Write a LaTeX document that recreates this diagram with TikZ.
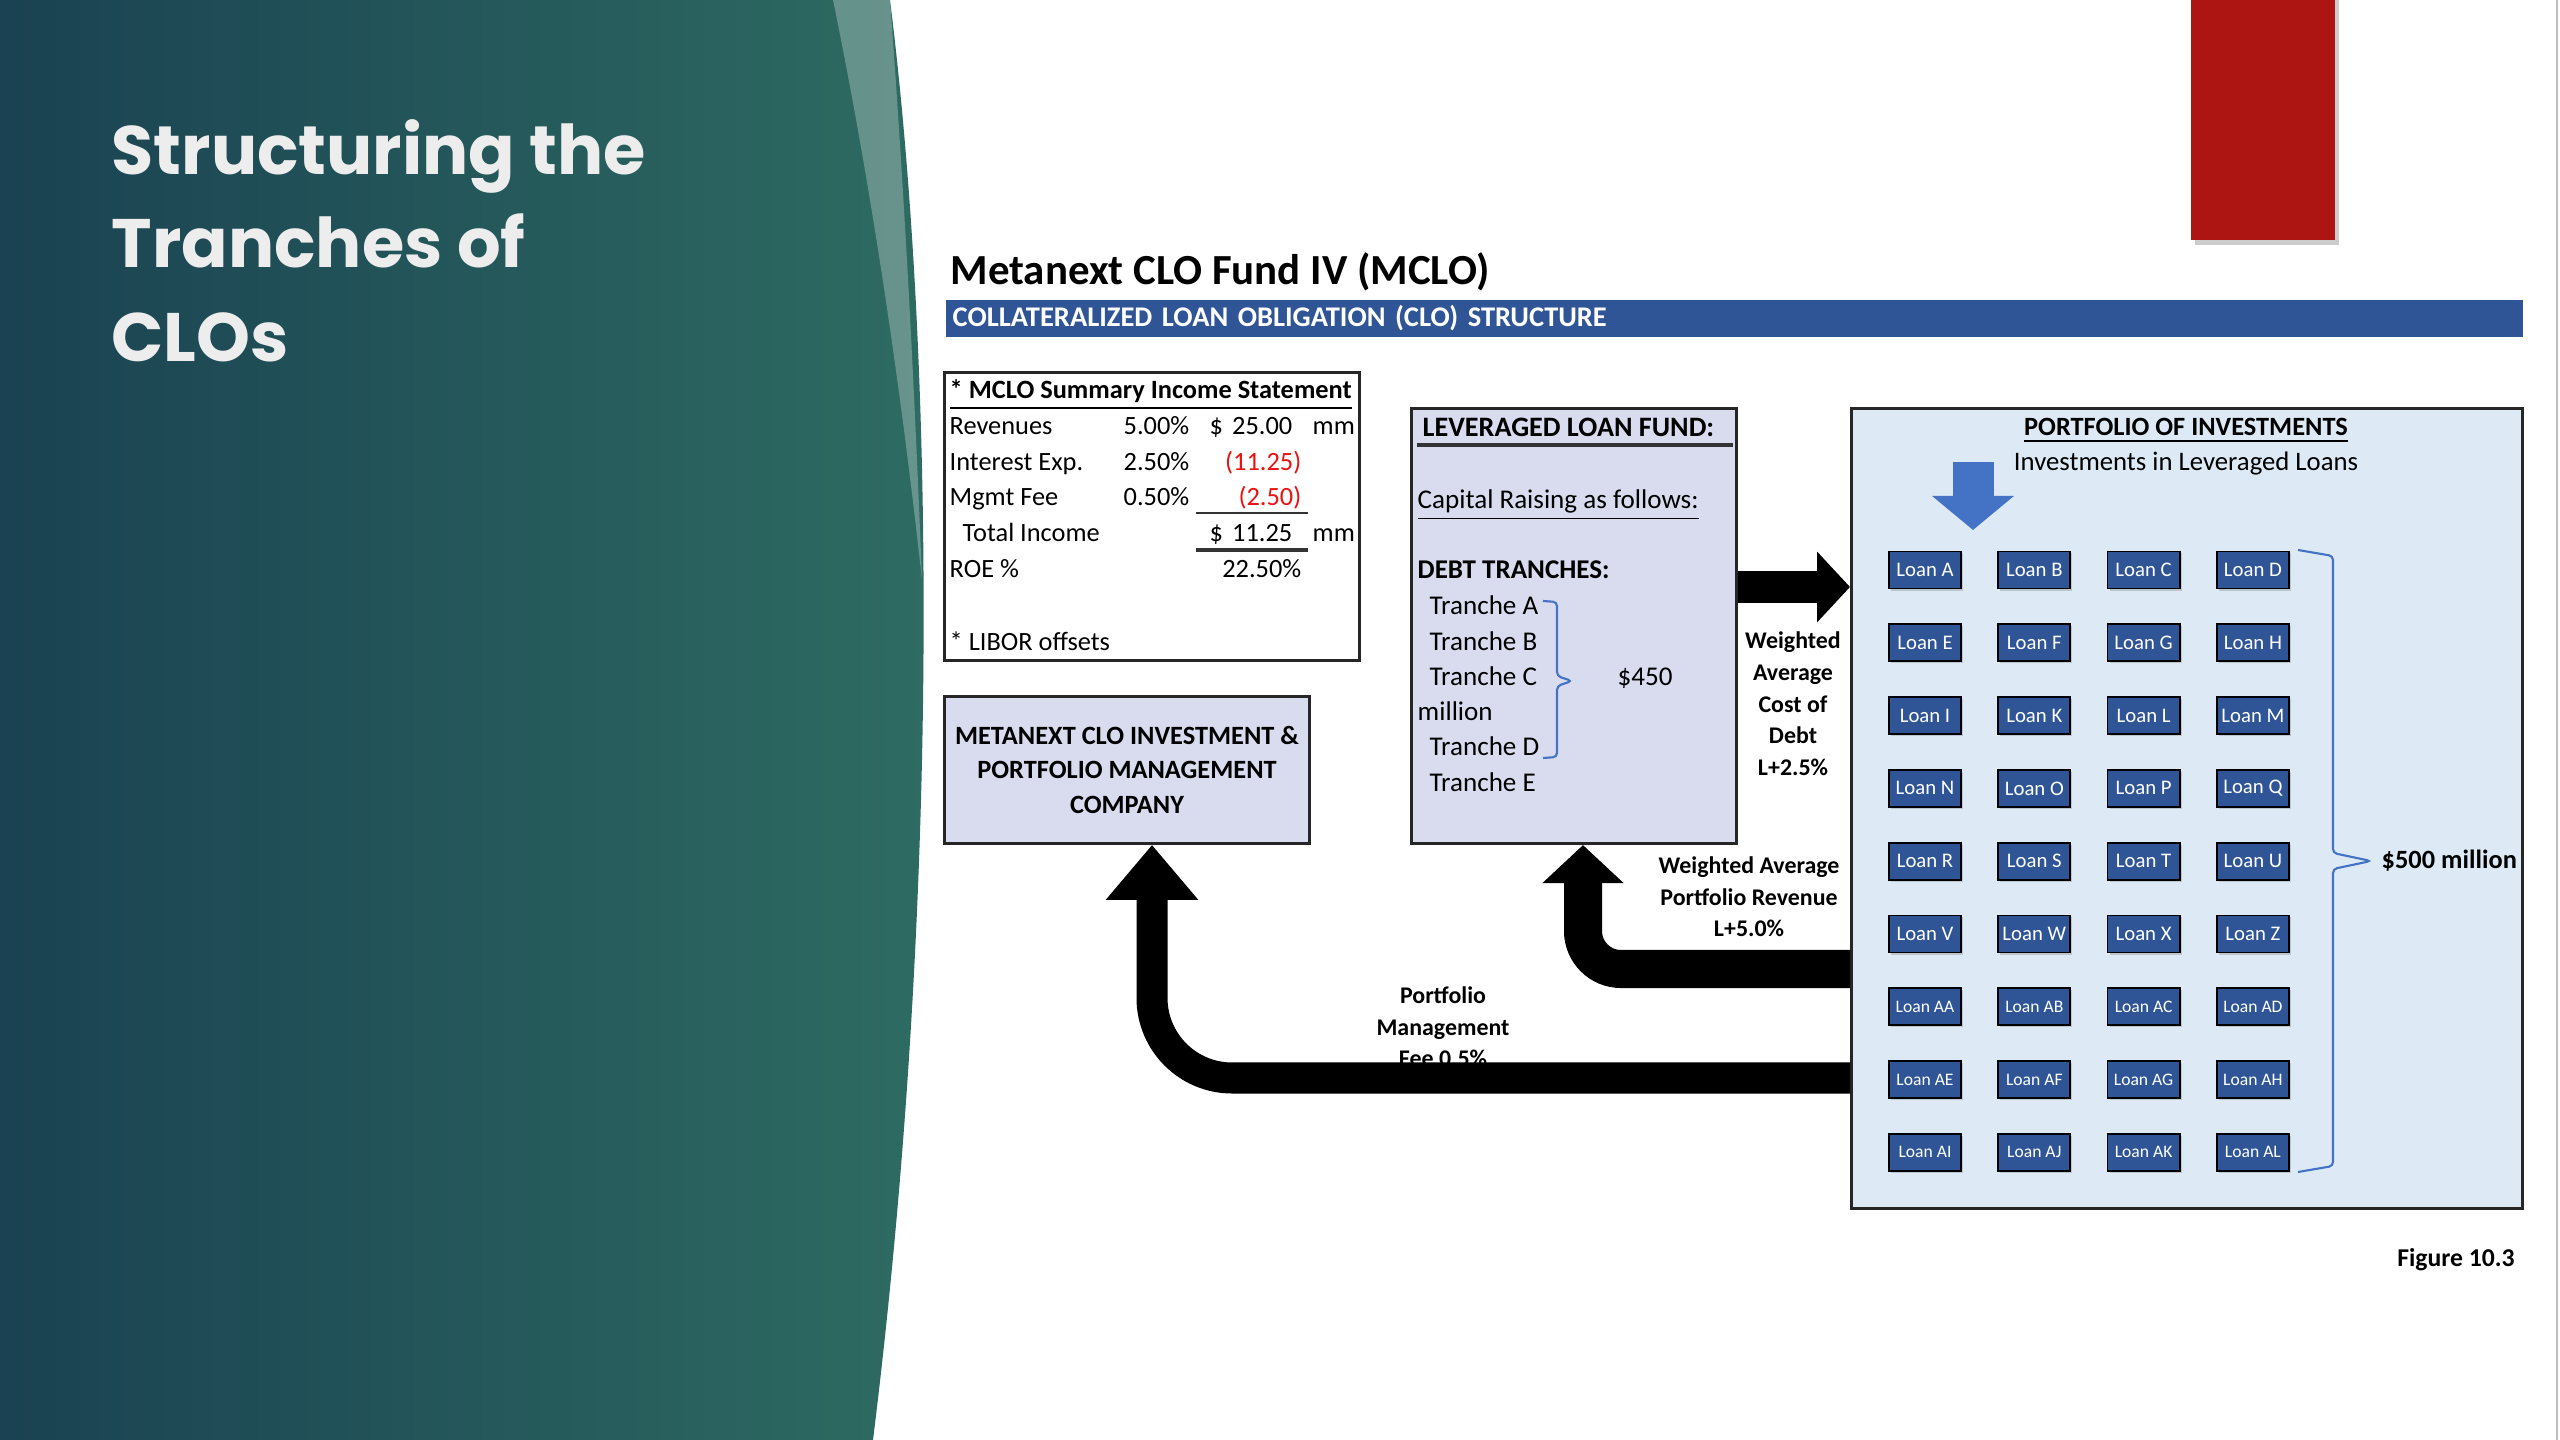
\documentclass[tikz,border=0pt]{standalone}
\usepackage{fontspec}
\setmainfont{Carlito}
\newfontfamily\slidefont{Poppins}
\usetikzlibrary{arrows.meta,shadows}

\definecolor{slidedark}{HTML}{1A4252}
\definecolor{slideteal}{HTML}{2E6C62}
\definecolor{slidered}{HTML}{AC1512}
\definecolor{barblue}{HTML}{2F5597}
\definecolor{loanblue}{HTML}{2F5597}
\definecolor{bracblue}{HTML}{4472C4}
\definecolor{fundfill}{HTML}{D9DCEF}
\definecolor{pffill}{HTML}{DDEAF6}
\definecolor{negred}{HTML}{EE1111}

\begin{document}
\begin{tikzpicture}[
    x=0.01cm, y=-0.01cm,
    slidetitle/.style={
        font=\slidefont\bfseries\fontsize{19.5}{26.5}\selectfont,
        text=black!7,
        align=left,
        inner sep=0pt
    },
    cell/.style={
        font=\fontsize{7.5}{9}\selectfont,
        inner sep=0pt
    },
    cellbold/.style={
        cell,
        font=\bfseries\fontsize{7.5}{9}\selectfont
    },
    label/.style={
        font=\bfseries\fontsize{6.8}{9}\selectfont,
        align=center,
        inner sep=0pt
    },
    box/.style={
        draw=black!85,
        line width=0.8pt,
        inner sep=0pt
    },
    loan/.style={
        draw=black,
        fill=loanblue,
        text=white,
        line width=0.5pt,
        minimum width=0.72cm,
        minimum height=0.37cm,
        inner sep=0pt,
        drop shadow={opacity=0.35, shadow xshift=0.02cm, shadow yshift=-0.02cm}
    },
    flow/.style={
        draw=black,
        line cap=butt
    },
    brace/.style={
        draw=bracblue,
        line width=0.6pt,
        rounded corners=0.04cm
    },
    rule/.style={
        draw=black!80,
        line width=0.6pt
    }
]

\useasboundingbox (0,0) rectangle (2560,1440);

% Horizontal positions
\def\LabelX{949}
\def\PctX{1190}
\def\DollarX{1209}
\def\AmtX{1293}
\def\NegX{1302}
\def\UnitX{1312}
\def\LoanX{1925}
\def\LoanY{570}

% ==================================================
% Slide background
% ==================================================

\shade[left color=slidedark, right color=slideteal]
    (0,0) -- (890,0)
    .. controls (935,360) and (940,900) .. (873,1440)
    -- (0,1440) -- cycle;

\fill[white, opacity=0.28]
    (833,0) -- (890,0)
    .. controls (905,200) and (915,400) .. (922,580)
    .. controls (900,380) and (870,180) .. (833,0);

\node[slidetitle, anchor=north west] (slideTitle) at (111,119)
    {Structuring the\\Tranches of\\CLOs};

\fill[black!40, opacity=0.5] (2195,0) rectangle (2339,245);
\fill[slidered] (2191,0) rectangle (2335,240);

\draw[black!25, line width=0.5pt] (2557,0) -- (2557,1440);

% ==================================================
% Heading
% ==================================================

\node[anchor=west, inner sep=0pt, font=\bfseries\fontsize{12.2}{14}\selectfont] (mainTitle) at (950,272)
    {Metanext CLO Fund IV (MCLO)};

\node[
    anchor=north west,
    fill=barblue,
    text=white,
    font=\bfseries\fontsize{8.1}{10}\selectfont,
    minimum height=0.37cm,
    text width=15.62cm,
    inner xsep=0.07cm,
    inner ysep=0pt,
    align=left
] (bar) at (945,299)
    {COLLATERALIZED LOAN OBLIGATION (CLO) STRUCTURE};

% ==================================================
% Income statement
% ==================================================

\node[box, fill=white, anchor=north west, minimum width=4.15cm, minimum height=2.88cm] (income) at (943,371) {};

\node[cellbold, anchor=base west] (incHead) at (\LabelX,399)
    {\underline{* MCLO Summary Income Statement}};

\node[cell, anchor=base west] (revLbl) at (\LabelX,435) {Revenues};
\node[cell, anchor=base east] (revPct) at (\PctX,435) {5.00\%};
\node[cell, anchor=base west] (revDol) at (\DollarX,435) {\$};
\node[cell, anchor=base east] (revAmt) at (\AmtX,435) {25.00};
\node[cell, anchor=base west] (revUnit) at (\UnitX,435) {mm};

\node[cell, anchor=base west] (intLbl) at (\LabelX,471) {Interest Exp.};
\node[cell, anchor=base east] (intPct) at (\PctX,471) {2.50\%};
\node[cell, anchor=base east, text=negred] (intAmt) at (\NegX,471) {(11.25)};

\node[cell, anchor=base west] (feeLbl) at (\LabelX,506) {Mgmt Fee};
\node[cell, anchor=base east] (feePct) at (\PctX,506) {0.50\%};
\node[cell, anchor=base east, text=negred] (feeAmt) at (\NegX,506) {(2.50)};

\draw[rule] (1196,513) -- (1308,513);

\node[cell, anchor=base west] (totLbl) at (962,542) {Total Income};
\node[cell, anchor=base west] (totDol) at (\DollarX,542) {\$};
\node[cell, anchor=base east] (totAmt) at (\AmtX,542) {11.25};
\node[cell, anchor=base west] (totUnit) at (\UnitX,542) {mm};

\draw[rule, line width=1.1pt] (1196,550) -- (1308,550);

\node[cell, anchor=base west] (roeLbl) at (\LabelX,578) {ROE \%};
\node[cell, anchor=base east] (roeAmt) at (\NegX,578) {22.50\%};

\node[cell, anchor=base west] (libor) at (\LabelX,651) {* LIBOR offsets};

% ==================================================
% Management company
% ==================================================

\node[
    box,
    fill=fundfill,
    anchor=north west,
    minimum width=3.65cm,
    minimum height=1.47cm,
    align=center,
    font=\bfseries\fontsize{7.5}{9.9}\selectfont
] (mgmt) at (943,695)
    {METANEXT CLO INVESTMENT \&\\PORTFOLIO MANAGEMENT\\COMPANY};

% ==================================================
% Leveraged loan fund
% ==================================================

\node[box, fill=fundfill, anchor=north west, minimum width=3.25cm, minimum height=4.35cm] (llf) at (1410,407) {};

\node[cellbold, anchor=base west, font=\bfseries\fontsize{8}{9}\selectfont] (fundHead) at (1422,437)
    {LEVERAGED LOAN FUND:};
\draw[rule, line width=1pt] (1417,445) -- (1733,445);

\node[cell, anchor=base west, font=\fontsize{7.7}{9}\selectfont] (capital) at (1417,509)
    {\underline{Capital Raising as follows:}};

\node[cellbold, anchor=base west, font=\bfseries\fontsize{7.7}{9}\selectfont] (debtHead) at (1417,579)
    {DEBT TRANCHES:};

\foreach \t/\y in {A/615,B/651,C/686,D/756,E/791}
    \node[cell, anchor=base west, font=\fontsize{7.7}{9}\selectfont] (tranche\t) at (1429,\y) {Tranche \t};

\node[cell, anchor=base west, font=\fontsize{7.7}{9}\selectfont] (million) at (1417,721) {million};
\node[cell, anchor=base west, font=\fontsize{7.7}{9}\selectfont] (debtAmt) at (1617,686) {\$450};

% tranche brace
\draw[brace]
    (1543,601) -- (1557,602) -- (1557,676) -- (1572,681)
    -- (1557,686) -- (1557,757) -- (1543,758);

\node[label] (costDebt) at (1793,704)
    {Weighted\\Average\\Cost of\\Debt\\L+2.5\%};

% ==================================================
% Portfolio of investments
% ==================================================

\node[box, fill=pffill, anchor=north west, minimum width=6.71cm, minimum height=8.0cm] (pf) at (1850,407) {};

\node[cellbold, anchor=base] (pfHead) at (2186,436)
    {\underline{PORTFOLIO OF INVESTMENTS}};
\node[cell, anchor=base, font=\fontsize{7.6}{9}\selectfont] (pfSub) at (2186,471)
    {Investments in Leveraged Loans};

\draw[draw=bracblue, line width=0.41cm, -{Triangle[length=0.34cm, width=0.8cm]}]
    (1973,462) -- (1973,530);

\foreach \lbl [count=\i from 0] in {A,B,C,D,E,F,G,H,I,K,L,M,N,O,P,Q,R,S,T,U,V,W,X,Z,AA,AB,AC,AD,AE,AF,AG,AH,AI,AJ,AK,AL} {
    \pgfmathtruncatemacro{\col}{mod(\i,4)}
    \pgfmathtruncatemacro{\row}{div(\i,4)}
    \ifnum\row>5
        \def\loanfont{\fontsize{5}{6}\selectfont}
    \else
        \def\loanfont{\fontsize{5.9}{7}\selectfont}
    \fi
    \node[loan, font=\loanfont] (loan\lbl) at ({\LoanX+\col*109.3},{\LoanY+\row*72.8}) {Loan \lbl};
}

% loan brace
\draw[brace]
    (2298,550) -- (2333,556) -- (2333,853) -- (2371,861)
    -- (2333,869) -- (2333,1166) -- (2298,1172);

\node[cellbold, anchor=west] (pfTotal) at (2381,861) {\$500 million};

% ==================================================
% Cash flows
% ==================================================

\coordinate (debtline) at (0,587);
\coordinate (revbend) at (1583,969);
\coordinate (feebend) at (1152,1078);

% fund invests in the portfolio
\draw[flow, line width=0.31cm, -{Triangle[length=0.33cm, width=0.69cm]}]
    (llf.east |- debtline) -- (pf.west |- debtline);

% portfolio revenue back to the fund
\draw[flow, line width=0.38cm, rounded corners=0.38cm, -{Triangle[length=0.38cm, width=0.79cm]}]
    (pf.west |- revbend) -| (llf.south -| revbend);

\node[label] (revenue) at (1749,897)
    {Weighted Average\\Portfolio Revenue\\L+5.0\%};

\node[label] (feeText) at (1443,1027)
    {Portfolio\\Management\\Fee 0.5\%};

% management fee to the manager
\draw[flow, line width=0.31cm, rounded corners=0.8cm, -{Triangle[length=0.55cm, width=0.89cm]}]
    (pf.west |- feebend) -| (mgmt.south -| feebend);

\node[anchor=center, inner sep=0pt, font=\bfseries\fontsize{7.3}{9}\selectfont] (figNo) at (2456,1260)
    {Figure 10.3};

\end{tikzpicture}
\end{document}
